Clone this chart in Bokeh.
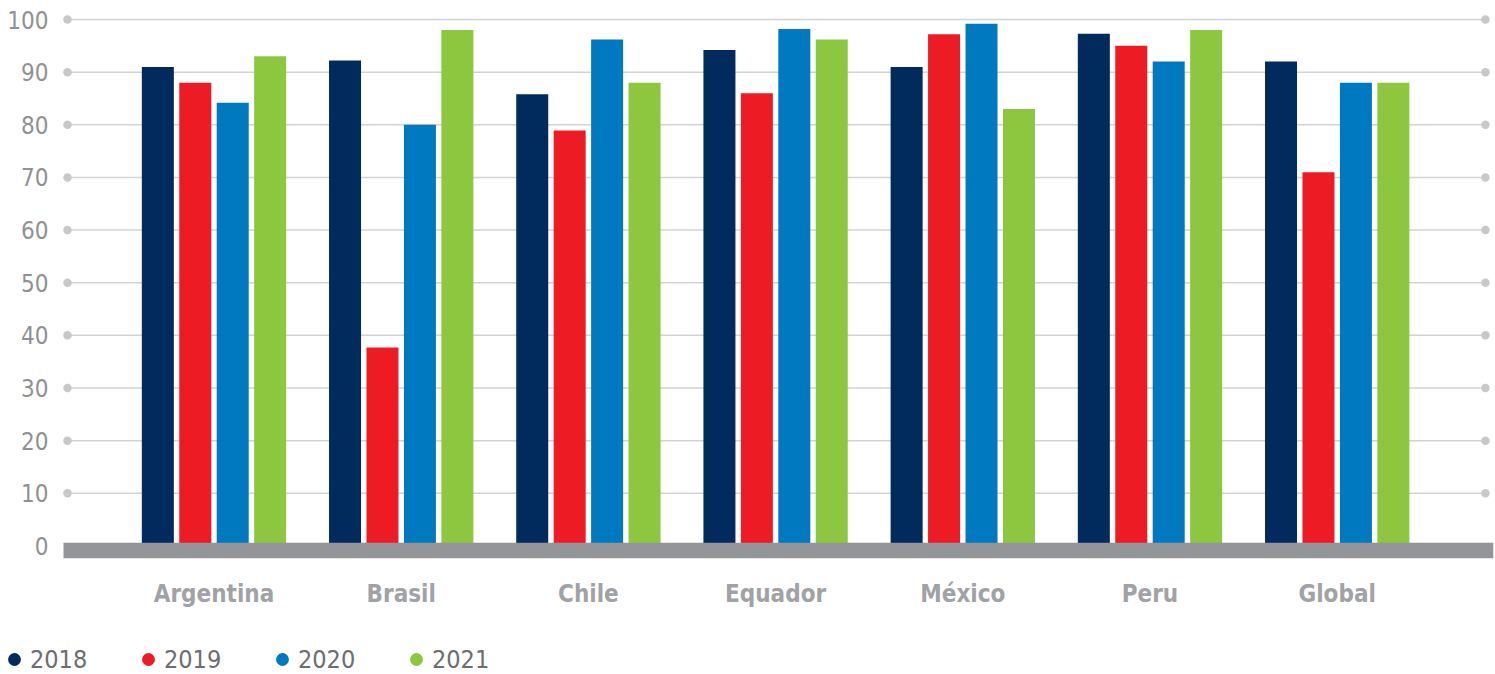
from bokeh.plotting import figure
from bokeh.layouts import column
from bokeh.models import FixedTicker, Legend, LegendItem, Range1d
from bokeh.embed import file_html
from bokeh.resources import INLINE

categories = ["Argentina", "Brasil", "Chile", "Equador", "México", "Peru", "Global"]
years = ["2018", "2019", "2020", "2021"]
v2018 = [91, 92.2, 85.8, 94.2, 91, 97.3, 92]
v2019 = [88, 37.7, 78.9, 86, 97.2, 95, 71]
v2020 = [84.2, 80, 96.2, 98.2, 99.2, 92, 88]
v2021 = [93, 98, 88, 96.2, 83, 98, 88]
series = [v2018, v2019, v2020, v2021]
y_ticks = list(range(0, 101, 10))
grid_ticks = list(range(10, 101, 10))

colors = ["#002b5c", "#ed1c24", "#0079c1", "#8dc63f"]
offsets = [-0.3, -0.1, 0.1, 0.3]
BAR_W = 0.171
X_START, X_END = -0.8253, 6.835
GRID_L, GRID_R = -0.7826, 6.792
FONT = "'DejaVu Sans Condensed', Roboto, sans-serif"

p = figure(width=1495, height=625, output_backend="svg", toolbar_location=None,
           x_range=Range1d(X_START, X_END), y_range=Range1d(-2.58, 101.33),
           min_border_left=59, min_border_right=2, min_border_top=12, min_border_bottom=66)
p.outline_line_color = None
p.xgrid.visible = False
p.ygrid.visible = False

# grid lines with end dots
p.segment(x0=[GRID_L] * len(grid_ticks), x1=[GRID_R] * len(grid_ticks), y0=grid_ticks, y1=grid_ticks,
          line_color="#d1d3d4", line_width=1.5)
p.scatter(x=[GRID_L] * len(grid_ticks), y=grid_ticks, size=8.5, fill_color="#c7c8ca", line_color=None)
p.scatter(x=[GRID_R] * len(grid_ticks), y=grid_ticks, size=8.5, fill_color="#c7c8ca", line_color=None)

xs = list(range(len(categories)))
for vals, off, col in zip(series, offsets, colors):
    p.vbar(x=[x + off for x in xs], top=vals, bottom=0, width=BAR_W, fill_color=col, line_color=None)

# baseline band
p.quad(left=[-0.804], right=[X_END], bottom=[-2.35], top=[0.6], fill_color="#939598", line_color=None)

# axes
p.yaxis.ticker = FixedTicker(ticks=y_ticks)
p.yaxis.axis_line_color = None
p.yaxis.major_tick_line_color = None
p.yaxis.minor_tick_line_color = None
p.yaxis.major_label_standoff = 5
p.yaxis.major_label_text_font = FONT
p.yaxis.major_label_text_font_size = "24px"
p.yaxis.major_label_text_color = "#8f9194"

p.xaxis.ticker = FixedTicker(ticks=xs)
p.xaxis.major_label_overrides = {i: c for i, c in enumerate(categories)}
p.xaxis.axis_line_color = None
p.xaxis.major_tick_line_color = None
p.xaxis.minor_tick_line_color = None
p.xaxis.major_label_standoff = 14
p.xaxis.major_label_text_font = FONT
p.xaxis.major_label_text_font_style = "bold"
p.xaxis.major_label_text_font_size = "24px"
p.xaxis.major_label_text_color = "#a0a2a5"

# legend in its own strip below the chart
leg = figure(width=1495, height=49, output_backend="svg", toolbar_location=None,
             x_axis_location=None, y_axis_location=None,
             x_range=Range1d(0, 1), y_range=Range1d(0, 1),
             min_border_left=0, min_border_right=0, min_border_top=0, min_border_bottom=0)
try:
    leg.frame_align = False
except Exception:
    pass
leg.outline_line_color = None
leg.xgrid.visible = False
leg.ygrid.visible = False
items = []
for y, col in zip(years, colors):
    r = leg.scatter(x=[float("nan")], y=[float("nan")], size=15, fill_color=col, line_color=None)
    items.append(LegendItem(label=y, renderers=[r]))
legend = Legend(items=items, orientation="horizontal", location=(-2, -4),
                glyph_width=32, glyph_height=38, label_standoff=0, label_width=90, spacing=12,
                padding=0, margin=0, border_line_color=None, background_fill_alpha=0,
                label_text_font=FONT, label_text_font_size="25px", label_text_color="#6d6e71")
leg.add_layout(legend, "center")

layout = column(p, leg, spacing=0)
open("out.html", "w").write(file_html(layout, INLINE))
